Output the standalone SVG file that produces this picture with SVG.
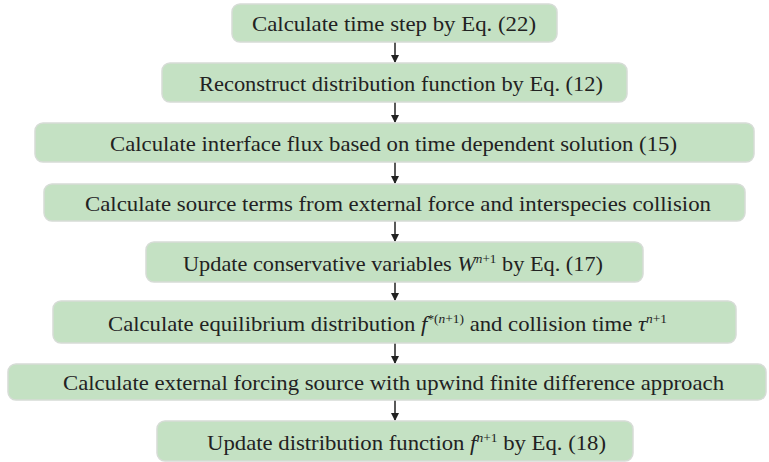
<svg xmlns="http://www.w3.org/2000/svg" width="769" height="462" viewBox="0 0 769 462">
<defs>
<style>
.box{fill:#c4e1c3;stroke:#d6dcd6;stroke-width:1.5}
.t{font-family:'Liberation Serif','Times New Roman',serif;font-size:22px;fill:#222;text-anchor:middle}
.i{font-style:italic}
.s{font-size:13px}
.c{stroke:#222;stroke-width:1.5;fill:none}
</style>
<marker id="ah" markerWidth="8" markerHeight="9" refX="7" refY="4.5" orient="auto" markerUnits="userSpaceOnUse">
<path d="M0,0.5 L8,4.5 L0,8.5 Z" fill="#222"/>
</marker>
</defs>
<rect width="769" height="462" fill="#fff"/>
<g id="connectors">
<line class="c" x1="395" y1="42" x2="395" y2="62" marker-end="url(#ah)"/>
<line class="c" x1="395" y1="102" x2="395" y2="122" marker-end="url(#ah)"/>
<line class="c" x1="395" y1="162" x2="395" y2="183" marker-end="url(#ah)"/>
<line class="c" x1="395" y1="221" x2="395" y2="241" marker-end="url(#ah)"/>
<line class="c" x1="395" y1="282" x2="395" y2="300" marker-end="url(#ah)"/>
<line class="c" x1="395" y1="343" x2="395" y2="363" marker-end="url(#ah)"/>
<line class="c" x1="395" y1="400" x2="395" y2="420" marker-end="url(#ah)"/>
</g>
<g id="n1">
<rect class="box" x="232" y="4" width="325" height="38" rx="8"/>
<text class="t" x="394" y="31" textLength="284" lengthAdjust="spacingAndGlyphs">Calculate time step by Eq. (22)</text>
</g>
<g id="n2">
<rect class="box" x="162" y="63" width="465" height="39" rx="8"/>
<text class="t" x="401" y="91" textLength="404" lengthAdjust="spacingAndGlyphs">Reconstruct distribution function by Eq. (12)</text>
</g>
<g id="n3">
<rect class="box" x="35" y="123" width="719" height="39" rx="8"/>
<text class="t" x="393.5" y="151" textLength="567" lengthAdjust="spacingAndGlyphs">Calculate interface flux based on time dependent solution (15)</text>
</g>
<g id="n4">
<rect class="box" x="44" y="184" width="701" height="37" rx="8"/>
<text class="t" x="398" y="211" textLength="626" lengthAdjust="spacingAndGlyphs">Calculate source terms from external force and interspecies collision</text>
</g>
<g id="n5">
<rect class="box" x="146" y="242" width="497" height="40" rx="8"/>
<text class="t" x="393" y="271" textLength="420" lengthAdjust="spacingAndGlyphs">Update conservative variables <tspan class="i">W</tspan><tspan class="s" dy="-8"><tspan class="i">n</tspan>+1</tspan><tspan dy="8"> by Eq. (17)</tspan></text>
</g>
<g id="n6">
<rect class="box" x="53" y="301" width="683" height="42" rx="8"/>
<text class="t" x="387.5" y="331" textLength="559" lengthAdjust="spacingAndGlyphs">Calculate equilibrium distribution <tspan class="i">f</tspan><tspan class="s" dy="-8">*(<tspan class="i">n</tspan>+1)</tspan><tspan dy="8"> and collision time </tspan><tspan class="i">τ</tspan><tspan class="s" dy="-8"><tspan class="i">n</tspan>+1</tspan></text>
</g>
<g id="n7">
<rect class="box" x="8" y="364" width="758" height="36" rx="8"/>
<text class="t" x="393.5" y="390" textLength="661" lengthAdjust="spacingAndGlyphs">Calculate external forcing source with upwind finite difference approach</text>
</g>
<g id="n8">
<rect class="box" x="157" y="421" width="476" height="40" rx="8"/>
<text class="t" x="406.5" y="450" textLength="399" lengthAdjust="spacingAndGlyphs">Update distribution function <tspan class="i">f</tspan><tspan class="s" dy="-8"><tspan class="i">n</tspan>+1</tspan><tspan dy="8">  by Eq. (18)</tspan></text>
</g>
</svg>
